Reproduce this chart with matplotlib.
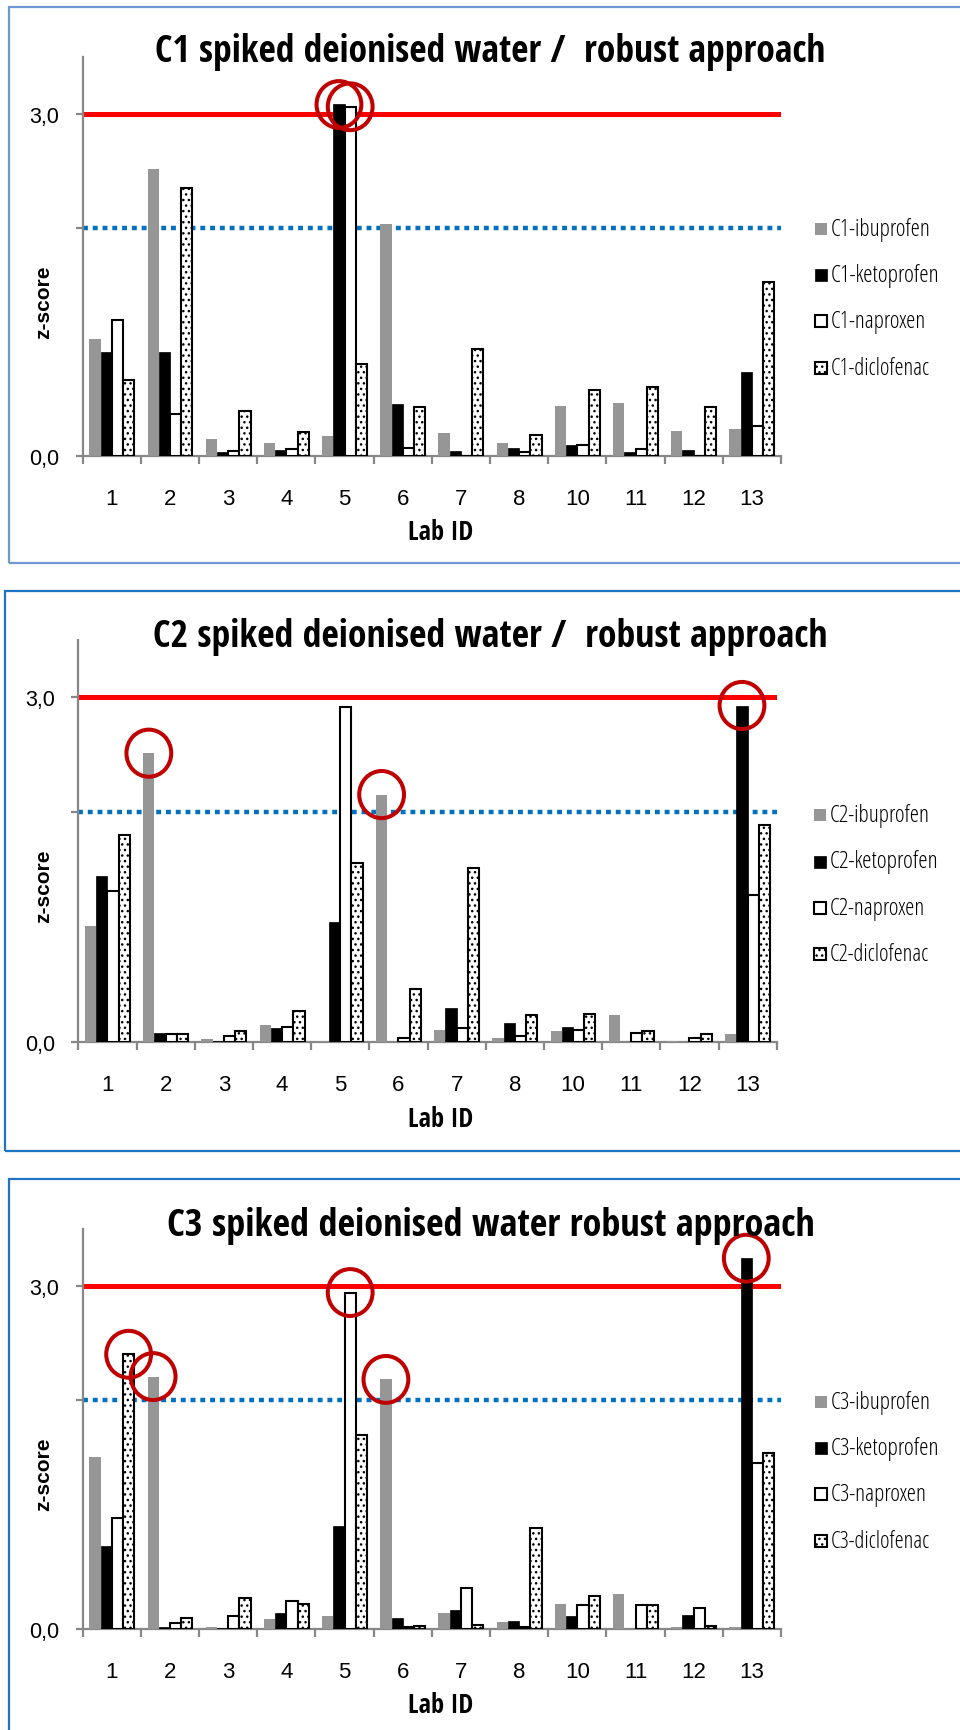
import numpy as np
import matplotlib.pyplot as plt
from matplotlib import font_manager as fm
from matplotlib.patches import Rectangle, Ellipse

W, H = 960, 1731

labs = ['1', '2', '3', '4', '5', '6', '7', '8', '10', '11', '12', '13']
compounds = ['ibuprofen', 'ketoprofen', 'naproxen', 'diclofenac']

# z-scores per lab, one list per compound and sample
c1_ibuprofen = [1.02, 2.51, 0.15, 0.11, 0.17, 2.03, 0.20, 0.11, 0.44, 0.46, 0.22, 0.23]
c1_ketoprofen = [0.91, 0.91, 0.03, 0.05, 3.08, 0.45, 0.04, 0.07, 0.09, 0.03, 0.05, 0.73]
c1_naproxen = [1.19, 0.37, 0.04, 0.06, 3.06, 0.07, 0.00, 0.03, 0.09, 0.055, 0.00, 0.26]
c1_diclofenac = [0.66, 2.35, 0.39, 0.21, 0.80, 0.43, 0.935, 0.18, 0.58, 0.60, 0.43, 1.52]

c2_ibuprofen = [1.01, 2.515, 0.03, 0.15, 0.01, 2.155, 0.105, 0.04, 0.10, 0.235, 0.01, 0.07]
c2_ketoprofen = [1.445, 0.08, 0.01, 0.125, 1.05, 0.00, 0.295, 0.165, 0.135, 0.00, 0.00, 2.93]
c2_naproxen = [1.32, 0.075, 0.05, 0.135, 2.92, 0.04, 0.125, 0.05, 0.11, 0.08, 0.04, 1.28]
c2_diclofenac = [1.80, 0.075, 0.10, 0.27, 1.56, 0.46, 1.52, 0.24, 0.245, 0.10, 0.075, 1.89]

c3_ibuprofen = [1.50, 2.205, 0.016, 0.085, 0.11, 2.18, 0.14, 0.06, 0.22, 0.30, 0.016, 0.016]
c3_ketoprofen = [0.726, 0.016, 0.005, 0.135, 0.895, 0.09, 0.165, 0.07, 0.11, 0.00, 0.12, 3.24]
c3_naproxen = [0.97, 0.05, 0.11, 0.245, 2.94, 0.016, 0.36, 0.012, 0.205, 0.21, 0.18, 1.445]
c3_diclofenac = [2.40, 0.09, 0.27, 0.22, 1.69, 0.025, 0.03, 0.885, 0.285, 0.205, 0.025, 1.54]

# results circled in red
c1_flags = [('5', 'ketoprofen'), ('5', 'naproxen')]
c2_flags = [('2', 'ibuprofen'), ('6', 'ibuprofen'), ('13', 'ketoprofen')]
c3_flags = [('1', 'diclofenac'), ('2', 'ibuprofen'), ('5', 'naproxen'),
            ('6', 'ibuprofen'), ('13', 'ketoprofen')]

panels = [
    dict(tag='C1', title='C1 spiked deionised water /  robust approach',
         series=[c1_ibuprofen, c1_ketoprofen, c1_naproxen, c1_diclofenac], flags=c1_flags,
         ax_px=(82.7, 57.6, 781.0, 456.7), box_px=(9, 8, 975, 564), box_color='#6F98D4',
         title_xy=(490, 52), title_w=670, dx=0),
    dict(tag='C2', title='C2 spiked deionised water /  robust approach',
         series=[c2_ibuprofen, c2_ketoprofen, c2_naproxen, c2_diclofenac], flags=c2_flags,
         ax_px=(78.4, 641.0, 776.7, 1043.2), box_px=(5, 592, 975, 1152), box_color='#1F74C4',
         title_xy=(490, 637), title_w=674, dx=3),
    dict(tag='C3', title='C3 spiked deionised water robust approach',
         series=[c3_ibuprofen, c3_ketoprofen, c3_naproxen, c3_diclofenac], flags=c3_flags,
         ax_px=(82.7, 1229.5, 781.0, 1629.7), box_px=(9, 1180, 975, 1760), box_color='#1F74C4',
         title_xy=(491, 1226), title_w=650, dx=0),
]

styles = [
    dict(facecolor='#969696', edgecolor='none', linewidth=0),
    dict(facecolor='black', edgecolor='black', linewidth=0.5),
    dict(facecolor='white', edgecolor='black', linewidth=1.5),
    dict(facecolor='white', edgecolor='black', linewidth=1.5, hatch='...'),
]

ARIAL = ['Liberation Sans', 'DejaVu Sans']
AXIS_GREY = '#878787'
plt.rcParams['hatch.linewidth'] = 1.0


def narrow_font(bold):
    # look for a narrow / condensed face, otherwise fall back to Liberation Sans
    faces = fm.fontManager.ttflist
    for fam in ['Liberation Sans Narrow', 'Noto Sans', 'Open Sans', 'Roboto', 'DejaVu Sans']:
        for f in faces:
            is_bold = f.weight in ('bold', 700) or str(f.weight) == '700'
            narrow = 'Narrow' in f.name or str(f.stretch) == 'condensed' or 'Condensed' in f.fname
            skip = any(s in f.fname for s in ('Italic', 'Semi', 'Extra', 'Oblique'))
            if f.name.startswith(fam) and narrow and is_bold == bold and not skip:
                return dict(fontproperties=fm.FontProperties(fname=f.fname))
    return dict(family='Liberation Sans', fontweight='bold' if bold else 'normal')


NARROW_BOLD = narrow_font(True)
NARROW_REG = narrow_font(False)


def fx(x):
    return x / W


def fy(y):
    return 1 - y / H


def fit_width(txt, target_px):
    # rescale a text so its rendered width matches target_px
    r = fig.canvas.get_renderer()
    w = txt.get_window_extent(renderer=r).width
    txt.set_fontsize(txt.get_fontsize() * target_px / w)


fig = plt.figure(figsize=(W / 100, H / 100), dpi=100)
bw = 0.193
x = np.arange(len(labs))

for p in panels:
    l, t, r, b = p['ax_px']
    ax = fig.add_axes([fx(l), fy(b), (r - l) / W, (b - t) / H])

    # box around each chart
    bl, bt, br, bb = p['box_px']
    fig.patches.append(Rectangle((fx(bl), fy(bb)), (br - bl) / W, (bb - bt) / H,
                                 transform=fig.transFigure, fill=False,
                                 edgecolor=p['box_color'], linewidth=1.6))

    ax.axhline(3.0, color='#FF0000', linewidth=3.6, zorder=1)
    ax.axhline(2.0, color='#0070C0', linewidth=3.2, linestyle=(0, (1.1, 1.1)), zorder=1)

    for i, vals in enumerate(p['series']):
        ax.bar(x + (i - 1.5) * bw, vals, width=bw, zorder=3, **styles[i])

    for lab, comp in p['flags']:
        j = labs.index(lab)
        k = compounds.index(comp)
        ax.add_patch(Ellipse((j + (k - 1.5) * bw, p['series'][k][j]), width=0.77, height=0.41,
                             fill=False, edgecolor='#C00000', linewidth=2.9, zorder=5,
                             clip_on=False))

    ax.set_xlim(-0.5, len(labs) - 0.5)
    ax.set_ylim(0, 3.5)
    for side in ['top', 'right']:
        ax.spines[side].set_visible(False)
    for side in ['left', 'bottom']:
        ax.spines[side].set_color(AXIS_GREY)
        ax.spines[side].set_linewidth(1.6)

    ax.set_yticks([0, 2, 3])
    ax.set_yticklabels(['0,0', '', '3,0'], family=ARIAL, fontsize=15.5)
    ax.tick_params(axis='y', length=5, width=1.6, color=AXIS_GREY, pad=12)

    ax.set_xticks(np.arange(-0.5, len(labs)), labels=[])
    ax.set_xticks(x, labels=labs, minor=True, family=ARIAL, fontsize=16)
    ax.tick_params(axis='x', which='major', length=6, width=1.6, color=AXIS_GREY)
    ax.tick_params(axis='x', which='minor', length=0, pad=23)

    tx, ty = p['title_xy']
    title = fig.text(fx(tx), fy(ty), p['title'], ha='center', va='center', **NARROW_BOLD)
    fit_width(title, p['title_w'])
    xlab = fig.text(fx(441), fy(b + 76), 'Lab ID', ha='center', va='center', **NARROW_BOLD)
    fit_width(xlab, 65)
    fig.text(fx(44), fy(t + 245), 'z-score', ha='center', va='center', rotation=90,
             fontsize=15, fontweight='bold', family=ARIAL)

    # legend entries to the right of the plot area
    widths = {'ibuprofen': 100, 'ketoprofen': 109, 'naproxen': 96, 'diclofenac': 99}
    for i, comp in enumerate(compounds):
        ly = b - 227 + i * 46.3
        mx = r + 34 + p['dx']
        fig.patches.append(Rectangle((fx(mx), fy(ly + 6)), 12 / W, 12 / H,
                                     transform=fig.transFigure, **styles[i]))
        lt = fig.text(fx(mx + 16), fy(ly), f"{p['tag']}-{comp}", ha='left', va='center',
                      **NARROW_REG)
        fit_width(lt, widths[comp])

fig.savefig('out.png', dpi=100)
